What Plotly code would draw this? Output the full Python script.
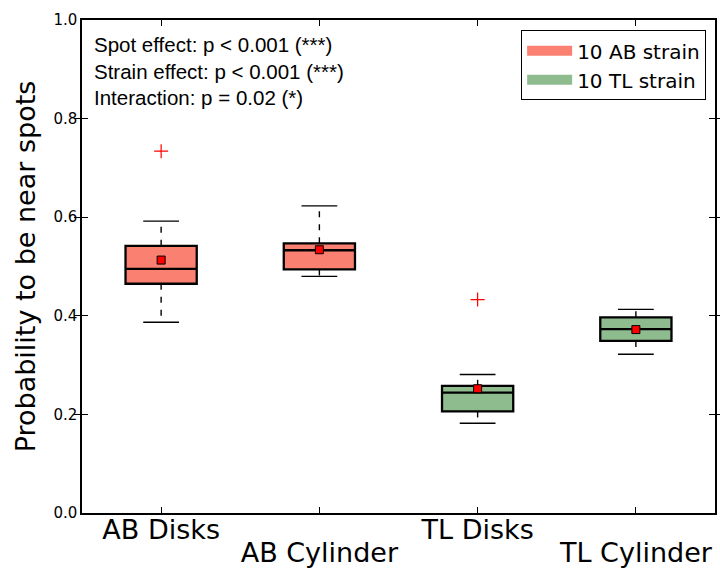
import plotly.graph_objects as go

categories = ["AB Disks", "AB Cylinder", "TL Disks", "TL Cylinder"]
q1 = [0.465, 0.494, 0.206, 0.349]
median = [0.495, 0.533, 0.244, 0.373]
q3 = [0.542, 0.547, 0.258, 0.397]
lower_whisker = [0.387, 0.480, 0.182, 0.322]
upper_whisker = [0.592, 0.623, 0.281, 0.413]
means = [0.513, 0.534, 0.252, 0.372]
outlier_cats = ["AB Disks", "TL Disks"]
outlier_vals = [0.734, 0.433]
strain_of = ["AB", "AB", "TL", "TL"]
legend_labels = {"AB": "10 AB strain", "TL": "10 TL strain"}
colors = {"AB": "#FA8072", "TL": "#8FBC8F"}
stats_text = ["Spot effect: p < 0.001 (***)",
              "Strain effect: p < 0.001 (***)",
              "Interaction: p = 0.02 (*)"]
y_ticks = [0.0, 0.2, 0.4, 0.6, 0.8, 1.0]

pos = [i + 1 for i in range(len(categories))]
box_w = 0.45
cap_half = 0.113

fig = go.Figure()

# whiskers (dashed)
wx, wy = [], []
cx, cy = [], []
for p, a, b, lo, hi in zip(pos, q1, q3, lower_whisker, upper_whisker):
    wx += [p, p, None, p, p, None]
    wy += [b, hi, None, a, lo, None]
    cx += [p - cap_half, p + cap_half, None, p - cap_half, p + cap_half, None]
    cy += [hi, hi, None, lo, lo, None]
fig.add_trace(go.Scatter(x=wx, y=wy, mode="lines", showlegend=False, hoverinfo="skip",
                         line=dict(color="black", width=1.4, dash="6px,7px")))
fig.add_trace(go.Scatter(x=cx, y=cy, mode="lines", showlegend=False, hoverinfo="skip",
                         line=dict(color="black", width=1.4)))

# boxes
for p, s, a, m, b in zip(pos, strain_of, q1, median, q3):
    fig.add_trace(go.Box(x=[p], q1=[a], median=[m], q3=[b], lowerfence=[a], upperfence=[b],
                         width=box_w, whiskerwidth=0, fillcolor=colors[s],
                         line=dict(color="black", width=2.3), boxpoints=False,
                         showlegend=False, hoverinfo="skip"))

# means
fig.add_trace(go.Scatter(x=pos, y=means, mode="markers", xaxis="x2", showlegend=False,
                         marker=dict(symbol="square", size=8, color="red",
                                     line=dict(color="black", width=1))))
# outliers
fig.add_trace(go.Scatter(x=[pos[categories.index(c)] for c in outlier_cats], y=outlier_vals,
                         mode="markers", xaxis="x2", showlegend=False,
                         marker=dict(symbol="cross-thin", size=10,
                                     line=dict(color="red", width=1.2))))

# legend entries
for s in ["AB", "TL"]:
    fig.add_trace(go.Scatter(x=[None], y=[None], mode="lines", name=legend_labels[s],
                             line=dict(color=colors[s], width=14)))

fig.add_annotation(xref="paper", yref="paper", x=0.016, y=0.978, xanchor="left", yanchor="top",
                   text="<br>".join(stats_text), showarrow=False, align="left",
                   font=dict(family="Liberation Sans, Arial", size=20.5, color="black"))

fig.update_layout(
    width=720, height=570,
    margin=dict(l=82, r=5, t=20, b=57),
    paper_bgcolor="white", plot_bgcolor="white",
    font=dict(family="DejaVu Sans", color="black"),
    boxmode="overlay",
    xaxis=dict(range=[0.5, 4.5], tickvals=pos,
               ticktext=[c if i % 2 == 0 else "" for i, c in enumerate(categories)],
               ticks="inside", ticklen=6, tickcolor="black", mirror="allticks",
               showline=True, linecolor="black", linewidth=1.5, showgrid=False, zeroline=False,
               automargin=False, ticklabelstandoff=-8,
               tickfont=dict(size=27, family="DejaVu Sans")),
    xaxis2=dict(overlaying="x", matches="x", anchor="y", side="bottom",
                tickvals=[p for i, p in enumerate(pos) if i % 2 == 1],
                ticktext=[c for i, c in enumerate(categories) if i % 2 == 1],
                ticks="", showline=False, showgrid=False, zeroline=False,
                automargin=False, ticklabelstandoff=21,
                tickfont=dict(size=27, family="DejaVu Sans")),
    yaxis=dict(range=[0, 1], tickvals=y_ticks, tickformat=".1f",
               ticks="inside", ticklen=6, tickcolor="black", mirror="allticks",
               showline=True, linecolor="black", linewidth=1.5, showgrid=False, zeroline=False,
               automargin=False,
               tickfont=dict(size=15, family="DejaVu Sans"),
               title=dict(text="Probability to be near spots", standoff=10,
                          font=dict(size=27, family="DejaVu Sans"))),
    legend=dict(x=0.986, y=0.979, xanchor="right", yanchor="top", itemwidth=45,
                bordercolor="black", borderwidth=1, bgcolor="white",
                font=dict(size=20, family="DejaVu Sans")),
)

fig.write_html("out.html", config={"displayModeBar": False},
               post_script="document.body.style.margin='0px';document.body.style.padding='0px';")
